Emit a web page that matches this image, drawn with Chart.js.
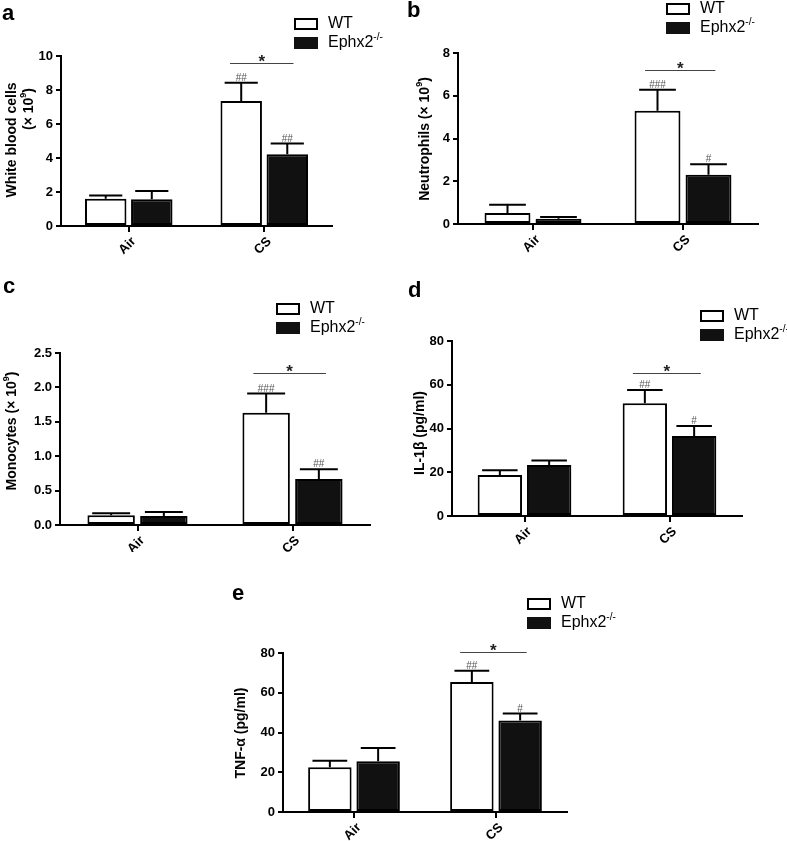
<!DOCTYPE html>
<html>
<head>
<meta charset="utf-8">
<script src="https://cdn.jsdelivr.net/npm/chart.js@4.4.1/dist/chart.umd.min.js"></script>
<style>
  html, body { margin: 0; padding: 0; background: #fff; }
  body { width: 787px; height: 841px; position: relative; overflow: hidden; }
  canvas { position: absolute; }
</style>
</head>
<body>
<canvas id="chartA" width="390" height="262" style="left:0;top:0"></canvas>
<canvas id="chartB" width="397" height="262" style="left:390px;top:0"></canvas>
<canvas id="chartC" width="390" height="290" style="left:0;top:262px"></canvas>
<canvas id="chartD" width="397" height="290" style="left:390px;top:262px"></canvas>
<canvas id="chartE" width="480" height="281" style="left:200px;top:560px"></canvas>
<script>
// ---- data ----
const groups = ['Air', 'CS'];

// a: white blood cells (x 10^9)
const wbcWT = [1.6, 7.35];
const wbcWTSem = [0.2, 1.08];
const wbcKO = [1.57, 4.22];
const wbcKOSem = [0.49, 0.63];
const wbcWTHash = ['', '##'];
const wbcKOHash = ['', '##'];
const wbcTicks = ['0', '2', '4', '6', '8', '10'];
const wbcStarAt = 9.57;

// b: neutrophils (x 10^9)
const neuWT = [0.52, 5.3];
const neuWTSem = [0.38, 0.98];
const neuKO = [0.25, 2.3];
const neuKOSem = [0.08, 0.5];
const neuWTHash = ['', '###'];
const neuKOHash = ['', '#'];
const neuTicks = ['0', '2', '4', '6', '8'];
const neuStarAt = 7.2;

// c: monocytes (x 10^9)
const monoWT = [0.14, 1.63];
const monoWTSem = [0.03, 0.28];
const monoKO = [0.13, 0.67];
const monoKOSem = [0.06, 0.14];
const monoWTHash = ['', '###'];
const monoKOHash = ['', '##'];
const monoTicks = ['0.0', '0.5', '1.0', '1.5', '2.0', '2.5'];
const monoStarAt = 2.21;

// d: IL-1beta (pg/ml)
const il1WT = [18.7, 51.6];
const il1WTSem = [2.2, 6.0];
const il1KO = [23.3, 36.6];
const il1KOSem = [2.1, 4.5];
const il1WTHash = ['', '##'];
const il1KOHash = ['', '#'];
const il1Ticks = ['0', '20', '40', '60', '80'];
const il1StarAt = 65.5;

// e: TNF-alpha (pg/ml)
const tnfWT = [22.5, 65.4];
const tnfWTSem = [3.3, 5.7];
const tnfKO = [25.5, 46];
const tnfKOSem = [6.7, 3.5];
const tnfWTHash = ['', '##'];
const tnfKOHash = ['', '#'];
const tnfTicks = ['0', '20', '40', '60', '80'];
const tnfStarAt = 80.3;

const FONT = "'Liberation Sans', Arial, Helvetica, sans-serif";

// draw a run of text pieces, some of them superscript
function drawRich(ctx, parts, x, y, size, weight, align) {
    const supSize = Math.round(size * 0.65);
    let total = 0;
    parts.forEach(([t, sup]) => {
        ctx.font = `${weight} ${sup ? supSize : size}px ${FONT}`;
        total += ctx.measureText(t).width;
    });
    let cx = align === 'left' ? x : x - total / 2;
    ctx.textAlign = 'left';
    ctx.textBaseline = 'middle';
    parts.forEach(([t, sup]) => {
        ctx.font = `${weight} ${sup ? supSize : size}px ${FONT}`;
        ctx.fillText(t, cx, sup ? y - size * 0.38 : y);
        cx += ctx.measureText(t).width;
    });
}

const panelExtras = {
    id: 'panelExtras',
    afterDraw(chart, args, opts) {
        const ctx = chart.ctx;
        const yScale = chart.scales.y;
        ctx.save();
        ctx.fillStyle = '#000';

        // error bars (upper whisker) and # marks
        chart.data.datasets.forEach((ds, di) => {
            const meta = chart.getDatasetMeta(di);
            meta.data.forEach((bar, i) => {
                const top = yScale.getPixelForValue(ds.data[i] + ds.sem[i]);
                const half = bar.width * 0.4;
                ctx.strokeStyle = '#000';
                ctx.lineWidth = 2;
                ctx.beginPath();
                ctx.moveTo(bar.x, bar.y);
                ctx.lineTo(bar.x, top);
                ctx.moveTo(bar.x - half, top);
                ctx.lineTo(bar.x + half, top);
                ctx.stroke();
                if (ds.hash[i]) {
                    ctx.fillStyle = '#555';
                    ctx.font = `10px ${FONT}`;
                    ctx.textAlign = 'center';
                    ctx.textBaseline = 'alphabetic';
                    ctx.fillText(ds.hash[i], bar.x, top - 2);
                }
            });
        });

        // significance bracket over CS
        const wtBar = chart.getDatasetMeta(0).data[1];
        const koBar = chart.getDatasetMeta(1).data[1];
        const x1 = wtBar.x - wtBar.width * 0.27;
        const x2 = koBar.x + koBar.width * 0.15;
        const yLine = Math.round(yScale.getPixelForValue(opts.starAt)) + 0.5;
        ctx.strokeStyle = '#444';
        ctx.lineWidth = 1;
        ctx.beginPath();
        ctx.moveTo(x1, yLine);
        ctx.lineTo(x2, yLine);
        ctx.stroke();
        ctx.fillStyle = '#222';
        ctx.font = `bold 17px ${FONT}`;
        ctx.textAlign = 'center';
        ctx.textBaseline = 'alphabetic';
        ctx.fillText('*', (x1 + x2) / 2, yLine + 3);

        // legend
        const [lx, ly] = opts.legend;
        ctx.lineWidth = 2;
        ctx.strokeStyle = '#000';
        ctx.fillStyle = '#fff';
        ctx.fillRect(lx, ly, 22, 10);
        ctx.strokeRect(lx, ly, 22, 10);
        ctx.fillStyle = '#111';
        ctx.fillRect(lx - 1, ly + 19 - 1, 24, 12);
        ctx.fillStyle = '#000';
        drawRich(ctx, [['WT', false]], lx + 33, ly + 5, 16, 'normal', 'left');
        drawRich(ctx, [['Ephx2', false], ['-/-', true]], lx + 33, ly + 24, 16, 'normal', 'left');

        // y axis title(s), rotated
        opts.titles.forEach(tl => {
            ctx.save();
            ctx.translate(tl.x, tl.y);
            ctx.rotate(-Math.PI / 2);
            drawRich(ctx, tl.parts, 0, 0, 14, 'bold', 'center');
            ctx.restore();
        });

        // panel letter
        ctx.font = `bold 22px ${FONT}`;
        ctx.textAlign = 'left';
        ctx.textBaseline = 'alphabetic';
        ctx.fillText(opts.letter[0], opts.letter[1], opts.letter[2]);
        ctx.restore();
    }
};

function makePanel(layout, wt, wtSem, wtHash, ko, koSem, koHash, ticks, starAt) {
    const canvas = document.getElementById(layout.id);
    const [l, t, r, b] = layout.area;
    const W = canvas.width, H = canvas.height;
    const tickVals = ticks.map(parseFloat);
    const barStyle = {
        borderColor: '#000',
        borderWidth: 2,
        borderSkipped: false,
        categoryPercentage: 0.68,
        barPercentage: 0.9
    };
    const tickFont = { family: FONT, size: 13, weight: 'bold' };

    return new Chart(canvas, {
        type: 'bar',
        data: {
            labels: groups,
            datasets: [
                { label: 'WT', data: wt, sem: wtSem, hash: wtHash, backgroundColor: '#fff', ...barStyle },
                { label: 'Ephx2-/-', data: ko, sem: koSem, hash: koHash, backgroundColor: '#111', ...barStyle }
            ]
        },
        options: {
            responsive: false,
            animation: false,
            devicePixelRatio: 1,
            layout: { padding: { left: 0, top: t, right: W - r, bottom: 0 } },
            plugins: {
                legend: { display: false },
                tooltip: { enabled: false },
                panelExtras: { starAt, legend: layout.legend, titles: layout.titles, letter: layout.letter }
            },
            scales: {
                x: {
                    grid: { display: true, drawOnChartArea: false, offset: false, tickLength: 6, color: '#000', lineWidth: 2 },
                    border: { display: true, color: '#000', width: 2 },
                    ticks: { color: '#000', font: tickFont, minRotation: 45, maxRotation: 45, autoSkip: false, padding: 2, labelOffset: 5 },
                    afterFit: s => { s.height = H - b; }
                },
                y: {
                    min: tickVals[0],
                    max: tickVals[tickVals.length - 1],
                    grid: { display: true, drawOnChartArea: false, tickLength: 5, color: '#000', lineWidth: 2 },
                    border: { display: true, color: '#000', width: 2 },
                    ticks: {
                        color: '#000',
                        font: tickFont,
                        padding: 3,
                        stepSize: tickVals[1] - tickVals[0],
                        callback: v => {
                            const k = tickVals.findIndex(tv => Math.abs(tv - v) < 1e-9);
                            return k >= 0 ? ticks[k] : '';
                        }
                    },
                    afterFit: s => { s.width = l; }
                }
            }
        },
        plugins: [panelExtras]
    });
}

const sup9 = [['9', true], [')', false]];

makePanel({
    id: 'chartA', area: [61, 56, 332, 226], legend: [295, 19], letter: ['a', 2, 20],
    titles: [
        { parts: [['White blood cells', false]], x: 12, y: 140 },
        { parts: [['(× 10', false], ...sup9], x: 29, y: 109 }
    ]
}, wbcWT, wbcWTSem, wbcWTHash, wbcKO, wbcKOSem, wbcKOHash, wbcTicks, wbcStarAt);

makePanel({
    id: 'chartB', area: [68, 53, 368, 224], legend: [277, 4], letter: ['b', 17, 17],
    titles: [{ parts: [['Neutrophils (× 10', false], ...sup9], x: 35, y: 139 }]
}, neuWT, neuWTSem, neuWTHash, neuKO, neuKOSem, neuKOHash, neuTicks, neuStarAt);

makePanel({
    id: 'chartC', area: [60, 91, 370, 263], legend: [277, 42], letter: ['c', 3, 31],
    titles: [{ parts: [['Monocytes (× 10', false], ...sup9], x: 12, y: 169 }]
}, monoWT, monoWTSem, monoWTHash, monoKO, monoKOSem, monoKOHash, monoTicks, monoStarAt);

makePanel({
    id: 'chartD', area: [62, 79, 352, 254], legend: [311, 49], letter: ['d', 18, 35],
    titles: [{ parts: [['IL-1β (pg/ml)', false]], x: 30, y: 171 }]
}, il1WT, il1WTSem, il1WTHash, il1KO, il1KOSem, il1KOHash, il1Ticks, il1StarAt);

makePanel({
    id: 'chartE', area: [83, 93, 367, 252], legend: [328, 39], letter: ['e', 32, 40],
    titles: [{ parts: [['TNF-α (pg/ml)', false]], x: 41, y: 173 }]
}, tnfWT, tnfWTSem, tnfWTHash, tnfKO, tnfKOSem, tnfKOHash, tnfTicks, tnfStarAt);
</script>
</body>
</html>
